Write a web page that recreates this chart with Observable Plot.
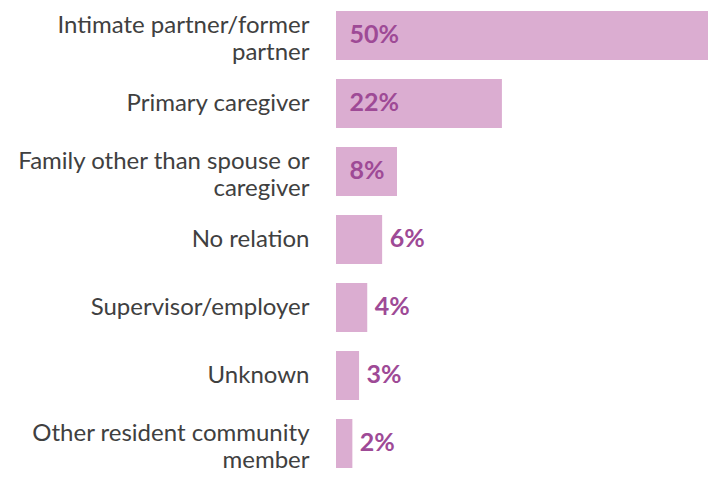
<!DOCTYPE html>
<html>
<head>
<meta charset="utf-8">
<script src="https://cdn.jsdelivr.net/npm/d3@7"></script>
<script src="https://cdn.jsdelivr.net/npm/@observablehq/plot@0.6"></script>
<style>
  html, body { margin: 0; padding: 0; background: #fff; }
  #chart svg { display: block; }
</style>
</head>
<body>
<div id="chart"></div>
<script>
const categories = [
  "Intimate partner/former\npartner",
  "Primary caregiver",
  "Family other than spouse or\ncaregiver",
  "No relation",
  "Supervisor/employer",
  "Unknown",
  "Other resident community\nmember"
];
const values = [50, 22.3, 8.2, 6.2, 4.2, 3.1, 2.2];
const labels = ["50%", "22%", "8%", "6%", "4%", "3%", "2%"];

const data = categories.map((c, i) => ({
  cat: c, value: values[i], label: labels[i],
  inside: values[i] >= 8, multi: c.includes("\n")
}));

const labelStyle = {
  y: "cat", x: 0, text: "cat", textAnchor: "end", dx: -27,
  fontSize: 24, fill: "#404040", lineHeight: 1.1
};

const chart = Plot.plot({
  width: 710,
  height: 486,
  marginLeft: 336,
  marginRight: 2,
  marginTop: 8,
  marginBottom: 14,
  x: {domain: [0, 50], axis: null},
  y: {domain: categories, axis: null, paddingInner: 0.275, paddingOuter: 0},
  style: {fontFamily: "Lato, sans-serif"},
  marks: [
    Plot.barX(data, {y: "cat", x: "value", fill: "#dbadd1"}),
    Plot.text(data.filter(d => d.multi), {...labelStyle, dy: 2}),
    Plot.text(data.filter(d => !d.multi), {...labelStyle, dy: -1}),
    Plot.text(data.filter(d => d.inside), {
      y: "cat", x: 0, text: "label", textAnchor: "start", dx: 13, dy: -1,
      fontSize: 25, fontWeight: "bold", fill: "#9e4a96"
    }),
    Plot.text(data.filter(d => !d.inside), {
      y: "cat", x: "value", text: "label", textAnchor: "start", dx: 7, dy: -1,
      fontSize: 25, fontWeight: "bold", fill: "#9e4a96"
    })
  ]
});
document.getElementById("chart").appendChild(chart);
</script>
</body>
</html>
